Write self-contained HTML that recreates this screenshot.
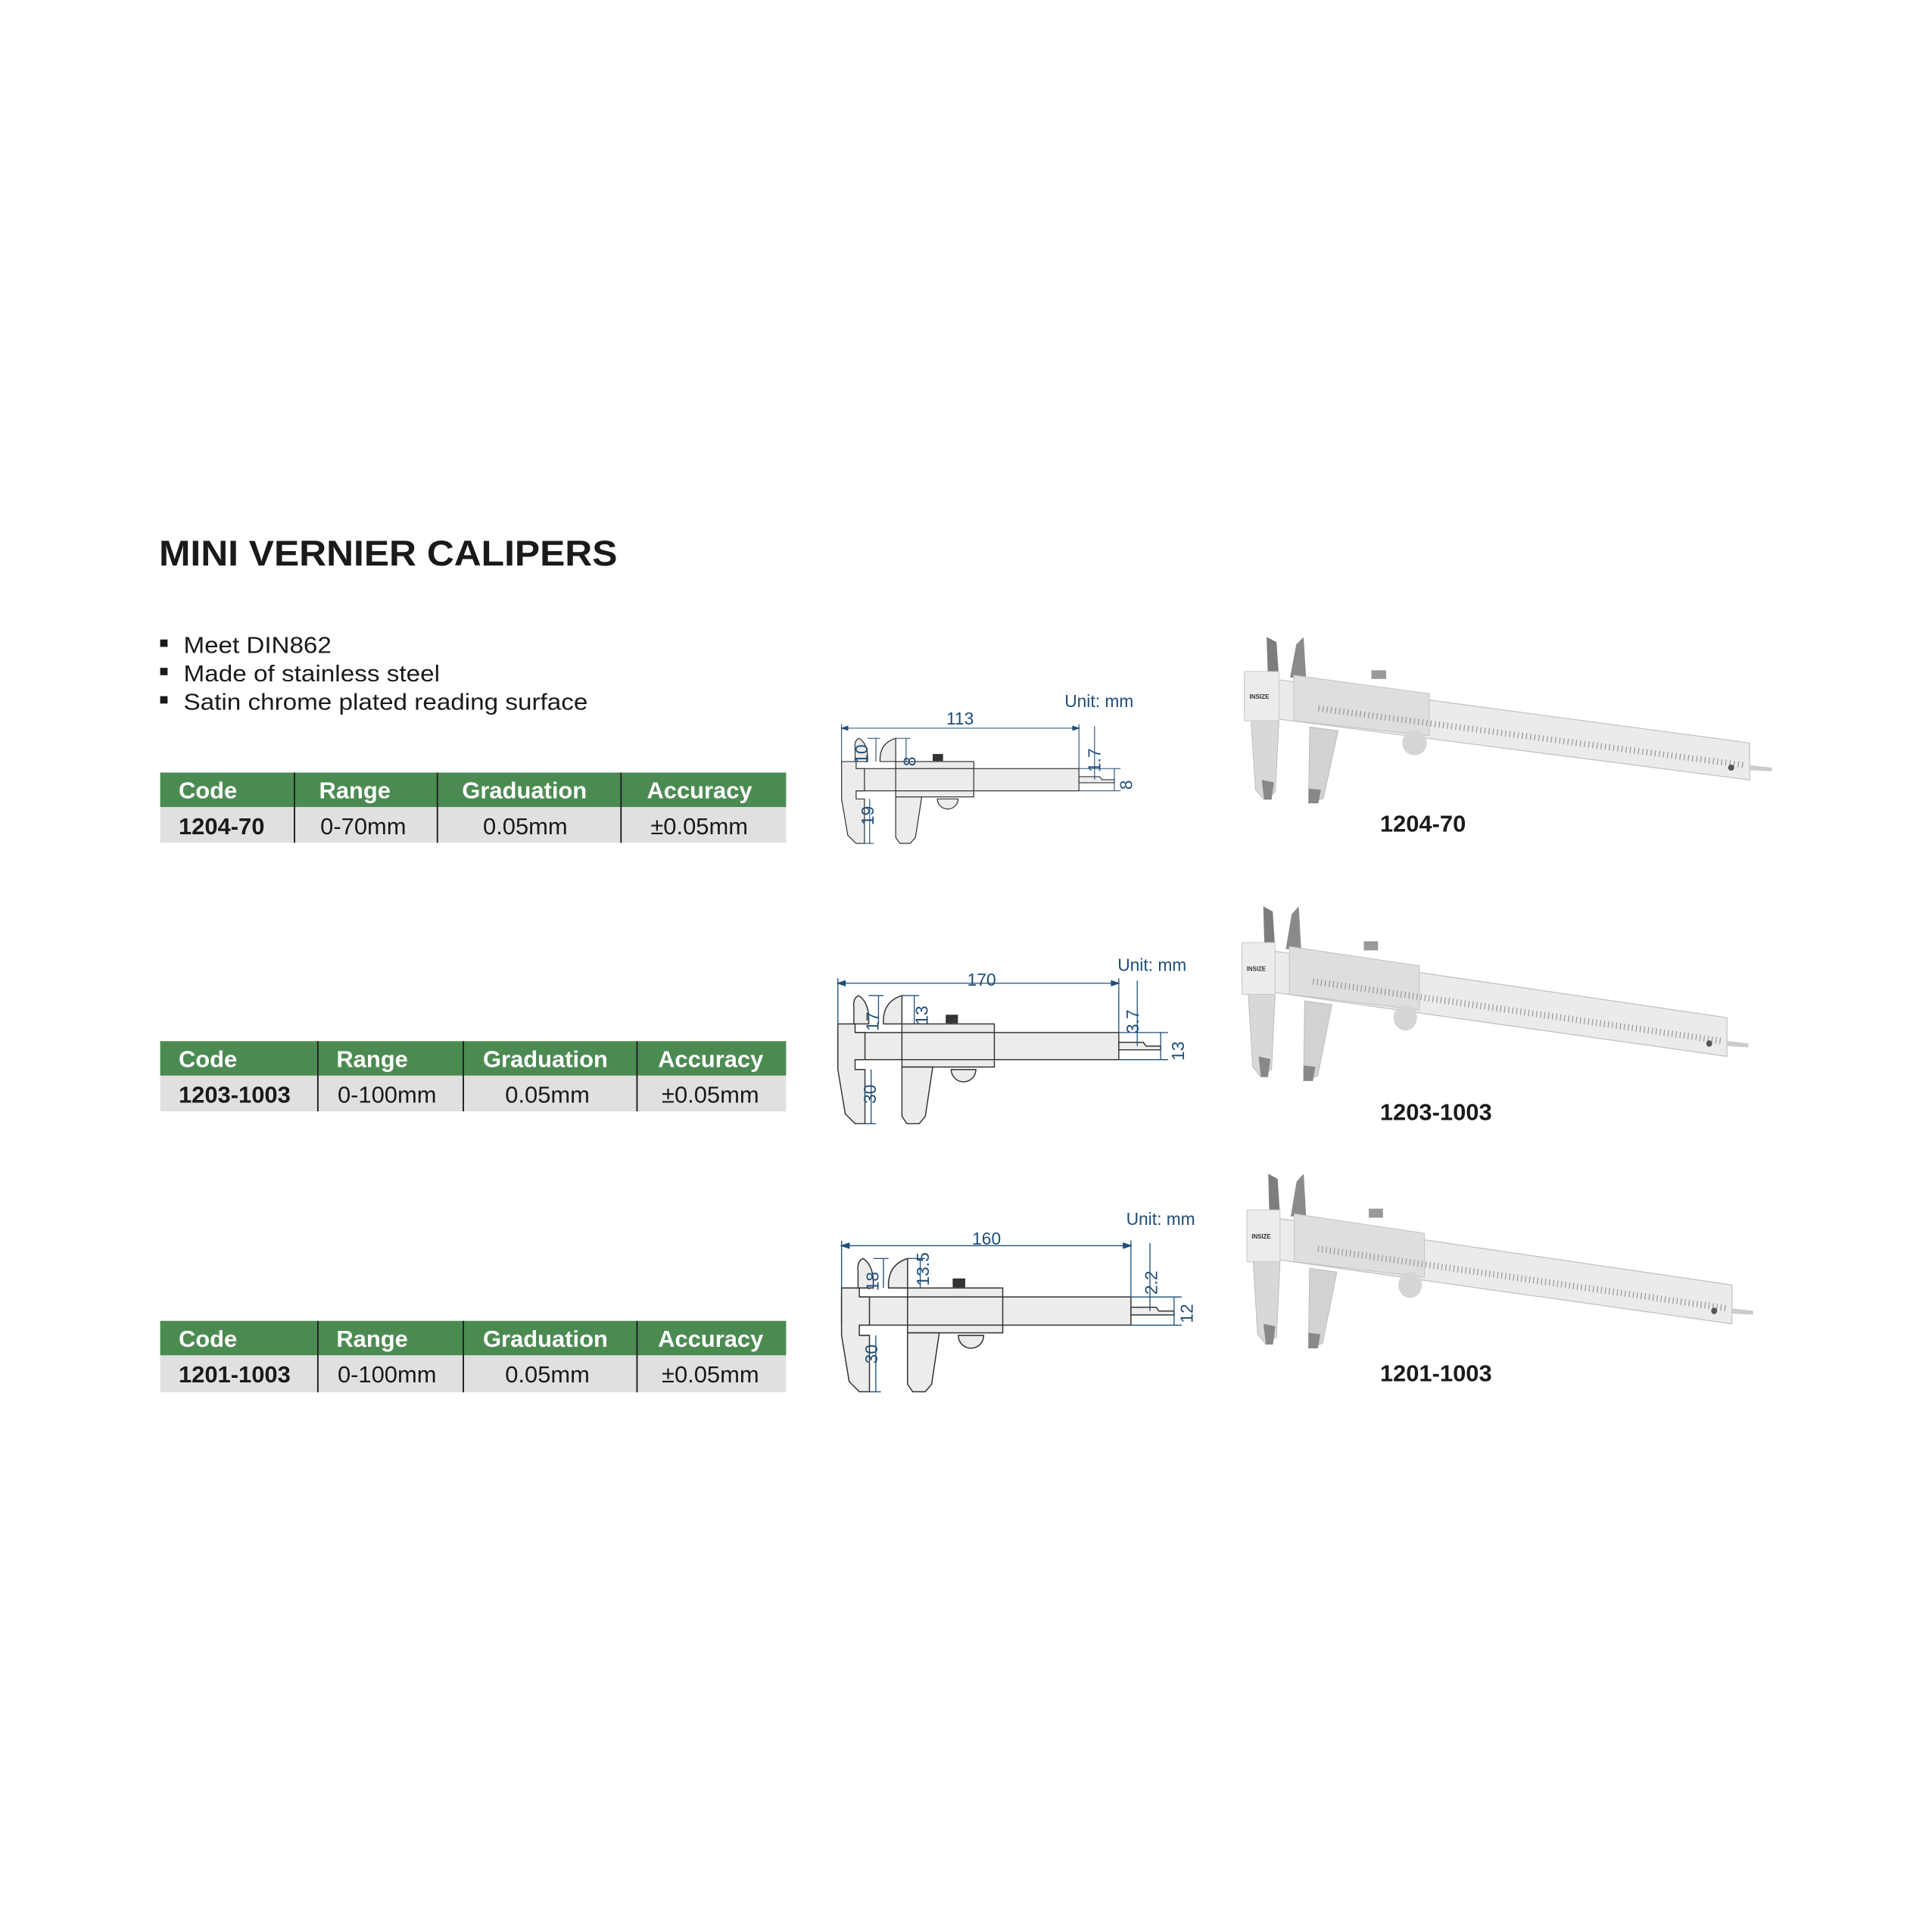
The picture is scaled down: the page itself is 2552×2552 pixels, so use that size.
<!DOCTYPE html>
<html><head><meta charset="utf-8"><style>
html,body{margin:0;padding:0;background:#fff;}
svg{display:block;}
text{font-family:"Liberation Sans",sans-serif;}
</style></head><body>
<svg width="2552" height="2552" viewBox="0 0 1568 1568" xmlns="http://www.w3.org/2000/svg">
<defs>
<g id="diag" stroke="#333" stroke-width="0.9" fill="#ececec">
  <rect x="0" y="40" width="228" height="22"/>
  <path d="M115 40 q-3 5 0 11 q3 5 0 11" fill="none"/>
  <path d="M118 40 q-3 5 0 11 q3 5 0 11" fill="none"/>
  <path d="M0 33 L14 33 L14 40 L22 40 L22 62 L14 62 L14 70 L22 70 L22 114 L14 114 L6 106 L0 70 Z"/>
  <path d="M13 33 L13 20 Q12 12 17 10 Q26 16 25 33 Z"/>
  <path d="M37 33 Q36 15 52 10 L52 33 Z"/>
  <rect x="52" y="33" width="75" height="35"/>
  <line x1="52" y1="40" x2="127" y2="40"/>
  <line x1="52" y1="62" x2="127" y2="62"/>
  <path d="M52 68 L77 68 L71 108 L66 114 L56 114 L52 108 Z"/>
  <path d="M92 70 A10 10 0 0 0 112 70 Z"/>
  <rect x="88" y="26" width="9" height="6" fill="#333"/>
  <line x1="92" y1="32" x2="92" y2="33"/>
  <path d="M228 48 L248 48 L250 51 L262 51 L262 54 L228 54 Z" fill="#eee"/>
</g>
<g id="dims" stroke="#1f4e79" stroke-width="0.8" fill="none">
  <line x1="0" y1="0" x2="228" y2="0"/>
  <path d="M0 0 l6 -2 v4 z M228 0 l-6 -2 v4 z" fill="#1f4e79"/>
  <line x1="0" y1="-4" x2="0" y2="33"/>
  <line x1="228" y1="-4" x2="228" y2="40"/>
  <line x1="33" y1="10" x2="33" y2="33"/><line x1="25" y1="10" x2="37" y2="10"/>
  <line x1="62" y1="10" x2="62" y2="33"/><line x1="52" y1="10" x2="66" y2="10"/>
  <line x1="27" y1="70" x2="27" y2="114"/><line x1="20" y1="114" x2="31" y2="114"/>
  <line x1="243" y1="-2" x2="243" y2="51"/>
  <line x1="262" y1="40" x2="262" y2="62"/>
  <line x1="228" y1="40" x2="268" y2="40"/><line x1="228" y1="62" x2="268" y2="62"/>
</g>
<g id="photo">
  <path d="M18 -28 L26 -24 L28 5 L19 5 Z" fill="#7d7d7d"/>
  <path d="M42 -22 L48 -28 L50 5 L37 5 Z" fill="#8a8a8a"/>
  <path d="M5 35 L28 40 L25 98 L16 104 L9 96 Z" fill="#d8d8d8" stroke="#bbb" stroke-width="0.6"/>
  <path d="M14 88 L24 90 L22 104 L16 104 Z" fill="#888"/>
  <path d="M53 45 L76 48 L64 103 L52 107 Z" fill="#d2d2d2" stroke="#bbb" stroke-width="0.6"/>
  <path d="M52 95 L62 96 L60 107 L52 107 Z" fill="#888"/>
  <path d="M0 3 L410 58 L410 88 L0 35 Z" fill="#ebebeb" stroke="#c4c4c4" stroke-width="0.8"/>
  <rect x="0" y="0" width="28" height="40" fill="#ececec" stroke="#c8c8c8" stroke-width="0.6"/>
  <path d="M40 3 L150 18 L150 52 L40 40 Z" fill="#dedede" stroke="#c0c0c0" stroke-width="0.6"/>
  <path d="M60 30 L405 76" stroke="#9a9a9a" stroke-width="5" stroke-dasharray="0.8 2.6"/>
  <circle cx="138" cy="58" r="10" fill="#d5d5d5"/>
  <rect x="103" y="-1" width="12" height="7" fill="#999"/>
  <path d="M410 76 L428 78 L428 81 L410 80 Z" fill="#ccc"/>
  <circle cx="395" cy="78" r="2.5" fill="#555"/>
  <text x="4" y="22" font-size="5" fill="#333" font-weight="bold">INSIZE</text>
</g>
</defs>

<text x="129" y="459" font-size="29" font-weight="bold" fill="#1a1a1a" textLength="372" lengthAdjust="spacingAndGlyphs">MINI VERNIER CALIPERS</text>
<g font-size="19" fill="#1a1a1a">
<rect x="130" y="519" width="6" height="6" fill="#1a1a1a"/>
<rect x="130" y="542" width="6" height="6" fill="#1a1a1a"/>
<rect x="130" y="565" width="6" height="6" fill="#1a1a1a"/>
<text x="149" y="530" textLength="120" lengthAdjust="spacingAndGlyphs">Meet DIN862</text>
<text x="149" y="553" textLength="208" lengthAdjust="spacingAndGlyphs">Made of stainless steel</text>
<text x="149" y="576" textLength="328" lengthAdjust="spacingAndGlyphs">Satin chrome plated reading surface</text>
</g>

<rect x="130" y="627" width="508" height="28" fill="#4b8b52"/>
<rect x="130" y="655" width="508" height="29" fill="#e0e0e0"/>
<g stroke="#222" stroke-width="1.2"><line x1="239" y1="627" x2="239" y2="684"/><line x1="355" y1="627" x2="355" y2="684"/><line x1="504" y1="627" x2="504" y2="684"/></g>
<g font-size="19" font-weight="bold" fill="#fff"><text x="145" y="648">Code</text><text x="259" y="648">Range</text><text x="375" y="648">Graduation</text><text x="525" y="648">Accuracy</text></g>
<g font-size="19" fill="#1a1a1a"><text x="145" y="677" font-weight="bold">1204-70</text><text x="260" y="677">0-70mm</text><text x="392" y="677">0.05mm</text><text x="528" y="677">±0.05mm</text></g>

<rect x="130" y="845" width="508" height="28" fill="#4b8b52"/>
<rect x="130" y="873" width="508" height="29" fill="#e0e0e0"/>
<g stroke="#222" stroke-width="1.2"><line x1="258" y1="845" x2="258" y2="902"/><line x1="376" y1="845" x2="376" y2="902"/><line x1="517" y1="845" x2="517" y2="902"/></g>
<g font-size="19" font-weight="bold" fill="#fff"><text x="145" y="866">Code</text><text x="273" y="866">Range</text><text x="392" y="866">Graduation</text><text x="534" y="866">Accuracy</text></g>
<g font-size="19" fill="#1a1a1a"><text x="145" y="895" font-weight="bold">1203-1003</text><text x="274" y="895">0-100mm</text><text x="410" y="895">0.05mm</text><text x="537" y="895">±0.05mm</text></g>

<rect x="130" y="1072" width="508" height="28" fill="#4b8b52"/>
<rect x="130" y="1100" width="508" height="30" fill="#e0e0e0"/>
<g stroke="#222" stroke-width="1.2"><line x1="258" y1="1072" x2="258" y2="1130"/><line x1="376" y1="1072" x2="376" y2="1130"/><line x1="517" y1="1072" x2="517" y2="1130"/></g>
<g font-size="19" font-weight="bold" fill="#fff"><text x="145" y="1093">Code</text><text x="273" y="1093">Range</text><text x="392" y="1093">Graduation</text><text x="534" y="1093">Accuracy</text></g>
<g font-size="19" fill="#1a1a1a"><text x="145" y="1122" font-weight="bold">1201-1003</text><text x="274" y="1122">0-100mm</text><text x="410" y="1122">0.05mm</text><text x="537" y="1122">±0.05mm</text></g>

<g transform="translate(683,591) scale(0.845,0.82)"><use href="#diag"/><use href="#dims"/></g>
<g transform="translate(680,798)"><use href="#diag"/><use href="#dims"/></g>
<g transform="translate(683,1011) scale(1.03,1.04)"><use href="#diag"/><use href="#dims"/></g>

<g font-size="14" fill="#1f4e79">
<text x="864" y="574">Unit: mm</text>
<text x="768" y="588">113</text>
<text transform="translate(704,612) rotate(-90)" text-anchor="middle">10</text>
<text transform="translate(743,618) rotate(-90)" text-anchor="middle">8</text>
<text transform="translate(709,662) rotate(-90)" text-anchor="middle">19</text>
<text transform="translate(893,617) rotate(-90)" text-anchor="middle">1.7</text>
<text transform="translate(919,637) rotate(-90)" text-anchor="middle">8</text>

<text x="907" y="788">Unit: mm</text>
<text x="785" y="800">170</text>
<text transform="translate(713,829) rotate(-90)" text-anchor="middle">17</text>
<text transform="translate(753,824) rotate(-90)" text-anchor="middle">13</text>
<text transform="translate(711,888) rotate(-90)" text-anchor="middle">30</text>
<text transform="translate(924,829) rotate(-90)" text-anchor="middle">3.7</text>
<text transform="translate(961,853) rotate(-90)" text-anchor="middle">13</text>

<text x="914" y="994">Unit: mm</text>
<text x="789" y="1010">160</text>
<text transform="translate(713,1040) rotate(-90)" text-anchor="middle">18</text>
<text transform="translate(754,1030) rotate(-90)" text-anchor="middle">13.5</text>
<text transform="translate(712,1099) rotate(-90)" text-anchor="middle">30</text>
<text transform="translate(939,1041) rotate(-90)" text-anchor="middle">2.2</text>
<text transform="translate(968,1066) rotate(-90)" text-anchor="middle">12</text>
</g>

<g transform="translate(1010,545)"><use href="#photo"/></g>
<g transform="translate(1008,765) scale(0.96,1.05)"><use href="#photo"/></g>
<g transform="translate(1012,982) scale(0.96,1.05)"><use href="#photo"/></g>

<g font-size="19" font-weight="bold" fill="#1a1a1a">
<text x="1120" y="675">1204-70</text>
<text x="1120" y="909">1203-1003</text>
<text x="1120" y="1121">1201-1003</text>
</g>
</svg>
</body></html>
